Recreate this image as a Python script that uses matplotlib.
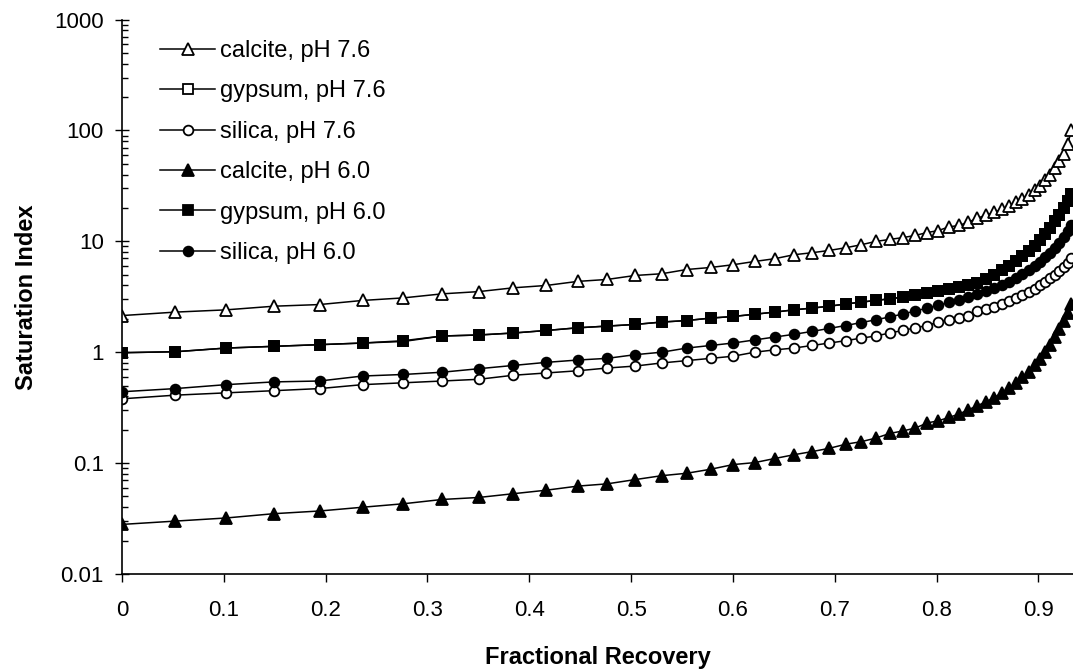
import matplotlib
matplotlib.use("Agg")
import matplotlib.pyplot as plt
from matplotlib.ticker import LogLocator, FixedLocator, NullFormatter

# fractional recovery of each calculation step
recovery = [0, 0.0525, 0.1022, 0.1494, 0.1940, 0.2363, 0.2764, 0.3144, 0.3504, 0.3845,
            0.4168, 0.4474, 0.4764, 0.5039, 0.5300, 0.5546, 0.5780, 0.6002, 0.6212, 0.6410,
            0.6599, 0.6777, 0.6947, 0.7107, 0.7259, 0.7403, 0.7539, 0.7668, 0.7791, 0.7907,
            0.8017, 0.8121, 0.8220, 0.8313, 0.8402, 0.8486, 0.8565, 0.8640, 0.8712, 0.8779,
            0.8843, 0.8904, 0.8962, 0.9016, 0.9068, 0.9117, 0.9163, 0.9207, 0.9249, 0.9288,
            0.9325]

calcite_76 = [2.14, 2.30, 2.41, 2.60, 2.69, 2.93, 3.09, 3.36, 3.52, 3.81,
              4.00, 4.35, 4.53, 4.92, 5.10, 5.57, 5.81, 6.15, 6.58, 6.97,
              7.57, 7.89, 8.28, 8.75, 9.31, 9.98, 10.4, 10.8, 11.3, 12.0,
              12.5, 13.5, 13.9, 14.9, 16.2, 17.2, 18.2, 19.5, 20.9, 22.4,
              24.0, 26.3, 28.8, 31.6, 35.5, 39.8, 45.7, 52.5, 61.7, 75.9,
              100.0]
gypsum_76 = [0.99, 1.01, 1.09, 1.13, 1.17, 1.21, 1.25, 1.40, 1.43, 1.49,
             1.57, 1.66, 1.72, 1.78, 1.87, 1.93, 2.03, 2.10, 2.20, 2.30,
             2.41, 2.50, 2.60, 2.72, 2.83, 2.93, 3.03, 3.14, 3.30, 3.41,
             3.56, 3.68, 3.86, 4.05, 4.23, 4.58, 4.99, 5.46, 6.00, 6.62,
             7.35, 8.18, 9.16, 10.3, 11.6, 13.2, 15.1, 17.3, 19.9, 23.0,
             26.7]
silica_76 = [0.38, 0.41, 0.43, 0.45, 0.47, 0.51, 0.53, 0.55, 0.57, 0.62,
             0.65, 0.68, 0.72, 0.75, 0.80, 0.84, 0.88, 0.92, 1.00, 1.05,
             1.09, 1.15, 1.21, 1.27, 1.34, 1.40, 1.49, 1.57, 1.66, 1.74,
             1.87, 1.96, 2.04, 2.14, 2.33, 2.45, 2.58, 2.73, 2.89, 3.07,
             3.27, 3.48, 3.72, 4.00, 4.31, 4.65, 5.02, 5.44, 5.92, 6.44,
             7.03]
calcite_60 = [0.028, 0.030, 0.032, 0.035, 0.037, 0.040, 0.043, 0.047, 0.049, 0.053,
              0.057, 0.062, 0.065, 0.071, 0.077, 0.081, 0.088, 0.097, 0.101, 0.110,
              0.119, 0.127, 0.136, 0.148, 0.156, 0.168, 0.185, 0.195, 0.207, 0.230,
              0.241, 0.258, 0.277, 0.303, 0.330, 0.357, 0.390, 0.429, 0.474, 0.528,
              0.593, 0.670, 0.762, 0.873, 1.01, 1.17, 1.37, 1.61, 1.91, 2.28,
              2.74]
gypsum_60 = [0.99, 1.01, 1.09, 1.13, 1.17, 1.21, 1.27, 1.40, 1.43, 1.49,
             1.57, 1.66, 1.72, 1.78, 1.87, 1.93, 2.03, 2.10, 2.20, 2.30,
             2.41, 2.50, 2.60, 2.72, 2.83, 2.93, 3.03, 3.14, 3.30, 3.41,
             3.56, 3.68, 3.86, 4.05, 4.23, 4.58, 4.99, 5.46, 6.00, 6.62,
             7.35, 8.18, 9.16, 10.3, 11.6, 13.2, 15.1, 17.3, 19.9, 23.0,
             26.7]
silica_60 = [0.44, 0.47, 0.51, 0.54, 0.55, 0.61, 0.63, 0.66, 0.71, 0.76,
             0.81, 0.85, 0.88, 0.95, 1.00, 1.09, 1.15, 1.21, 1.29, 1.37,
             1.45, 1.54, 1.64, 1.74, 1.85, 1.96, 2.08, 2.21, 2.35, 2.50,
             2.65, 2.81, 2.98, 3.15, 3.33, 3.54, 3.77, 4.03, 4.32, 4.65,
             5.03, 5.46, 5.95, 6.51, 7.16, 7.90, 8.76, 9.75, 10.9, 12.3,
             13.9]

series = [
    ("calcite, pH 7.6", calcite_76, "^", "white", 8.5),
    ("gypsum, pH 7.6", gypsum_76, "s", "white", 7),
    ("silica, pH 7.6", silica_76, "o", "white", 7),
    ("calcite, pH 6.0", calcite_60, "^", "black", 8.5),
    ("gypsum, pH 6.0", gypsum_60, "s", "black", 7),
    ("silica, pH 6.0", silica_60, "o", "black", 7),
]

plt.rcParams["font.family"] = ["Liberation Sans", "DejaVu Sans"]

fig = plt.figure(figsize=(10.73, 6.69), dpi=100)
ax = fig.add_axes([0.1137, 0.142, 0.8863, 0.8288])

for label, vals, mk, fc, ms in series:
    ax.plot(recovery, vals, color="black", lw=1.1, marker=mk, ms=ms,
            mfc=fc, mec="black", mew=1.3, label=label)

ax.set_yscale("log")
ax.set_ylim(0.01, 1000)
ax.set_xlim(0, 0.934)
ax.set_xticks([0, 0.1, 0.2, 0.3, 0.4, 0.5, 0.6, 0.7, 0.8, 0.9])
ax.set_xticklabels(["0", "0.1", "0.2", "0.3", "0.4", "0.5", "0.6", "0.7", "0.8", "0.9"])
ax.yaxis.set_major_locator(FixedLocator([0.01, 0.1, 1, 10, 100, 1000]))
ax.set_yticklabels(["0.01", "0.1", "1", "10", "100", "1000"])
ax.yaxis.set_minor_locator(LogLocator(base=10, subs=range(2, 10), numticks=20))
ax.yaxis.set_minor_formatter(NullFormatter())

ax.tick_params(axis="x", direction="out", length=6, width=1, pad=13, labelsize=16)
ax.tick_params(axis="y", which="major", direction="inout", length=10, width=1,
               pad=8, labelsize=16)
ax.tick_params(axis="y", which="minor", direction="in", length=4.5, width=1)

for side in ["top", "right"]:
    ax.spines[side].set_visible(False)
for side in ["left", "bottom"]:
    ax.spines[side].set_linewidth(1.2)

ax.set_ylabel("Saturation Index", fontsize=17, fontweight="bold", labelpad=12)
ax.set_xlabel("Fractional Recovery", fontsize=17, fontweight="bold", labelpad=18)

ax.legend(loc="upper left", bbox_to_anchor=(160 / 1073, 1 - 40 / 669),
          bbox_transform=fig.transFigure, frameon=False, fontsize=17,
          handlelength=2.33, handletextpad=0.2, labelspacing=0.78,
          borderpad=0, borderaxespad=0)

fig.savefig("out.png", dpi=100)
